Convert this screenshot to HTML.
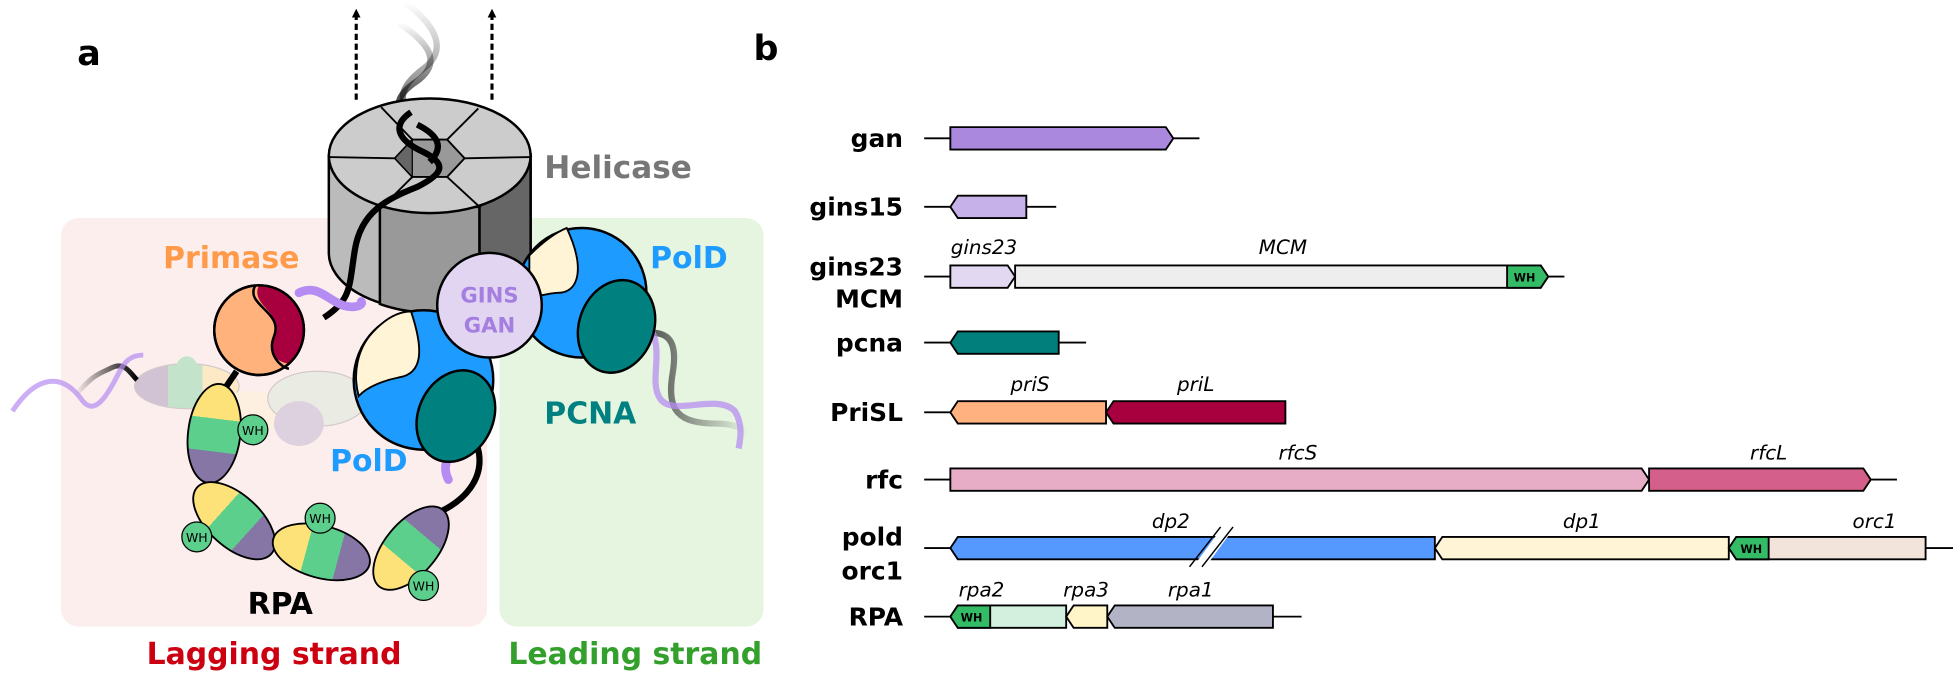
<!DOCTYPE html>
<html><head><meta charset="utf-8"><style>
html,body{margin:0;padding:0;background:#fff;}
svg{display:block;}
text{font-family:"DejaVu Sans","Liberation Sans",sans-serif;}
</style></head><body>
<svg width="1953" height="674" viewBox="0 0 1568 541" xmlns="http://www.w3.org/2000/svg">
<defs>
<linearGradient id="rpa" x1="0" y1="0" x2="1" y2="0">
<stop offset="0" stop-color="#fde27a"/><stop offset="0.35" stop-color="#fde27a"/>
<stop offset="0.35" stop-color="#5dcf8c"/><stop offset="0.68" stop-color="#5dcf8c"/>
<stop offset="0.68" stop-color="#8576a6"/><stop offset="1" stop-color="#8576a6"/>
</linearGradient>
<linearGradient id="fadeUp" x1="0" y1="1" x2="0" y2="0">
<stop offset="0" stop-color="#000"/><stop offset="1" stop-color="#000" stop-opacity="0"/>
</linearGradient>
<linearGradient id="fadeL" x1="1" y1="0" x2="0" y2="0">
<stop offset="0" stop-color="#000"/><stop offset="1" stop-color="#000" stop-opacity="0"/>
</linearGradient>
<linearGradient id="fadeR" x1="0" y1="0" x2="1" y2="0">
<stop offset="0" stop-color="#333"/><stop offset="1" stop-color="#333" stop-opacity="0"/>
</linearGradient>
<marker id="ah" markerUnits="userSpaceOnUse" markerWidth="8" markerHeight="8" refX="2" refY="4" orient="auto"><path d="M0,0.5 L7,4 L0,7.5 z" fill="#000"/></marker>
</defs>

<rect x="49" y="175" width="342" height="328" rx="14" fill="#fdeeee"/>
<rect x="401" y="175" width="212" height="328" rx="14" fill="#e5f5e0"/>

<text x="62" y="52" font-size="28" font-weight="bold">a</text>
<text x="605" y="48" font-size="28" font-weight="bold">b</text>

<line x1="286" y1="80" x2="286" y2="12" stroke="#000" stroke-width="2.5" stroke-dasharray="5,3" marker-end="url(#ah)"/>
<line x1="395" y1="80" x2="395" y2="12" stroke="#000" stroke-width="2.5" stroke-dasharray="5,3" marker-end="url(#ah)"/>

<path d="M325,2 C350,20 360,40 340,55 C320,70 320,80 330,95" fill="none" stroke="url(#fadeUp)" stroke-width="5" opacity="0.6"/>
<path d="M320,18 C345,35 355,50 335,65 C315,78 315,90 335,105" fill="none" stroke="url(#fadeUp)" stroke-width="5"/>

<path d="M264,125 L264,203 A81,46 0 0 0 426,203 L426,125 Z" fill="#bbbbbb" stroke="#000" stroke-width="2"/>
<path d="M305,166 L305,244 A81,46 0 0 0 385,246 L385,166 Z" fill="#999" stroke="#000" stroke-width="2"/>
<path d="M385,166 L385,246 A81,46 0 0 0 426,203 L426,125 Z" fill="#666" stroke="#000" stroke-width="2"/>
<ellipse cx="345" cy="125" rx="81" ry="46" fill="#cccccc" stroke="#000" stroke-width="2"/>
<polygon points="317,127 331,112 359,112 373,127 359,142 331,142" fill="#999" stroke="#000" stroke-width="1.5"/>
<polygon points="317,127 331,112 331,142" fill="#666" stroke="#000" stroke-width="1"/>
<g stroke="#000" stroke-width="1.5">
<line x1="331" y1="112" x2="306" y2="86"/><line x1="359" y1="112" x2="384" y2="87"/>
<line x1="317" y1="127" x2="264" y2="126"/><line x1="373" y1="127" x2="426" y2="126"/>
<line x1="331" y1="142" x2="304" y2="169"/><line x1="359" y1="142" x2="385" y2="166"/>
</g>
<path d="M330,90 C315,100 318,112 340,122 C360,132 355,140 335,150 C310,160 290,170 285,200 C280,230 283,240 260,255" fill="none" stroke="#000" stroke-width="5"/>
<path d="M335,100 C355,110 355,120 345,130" fill="none" stroke="#000" stroke-width="5"/>
<text x="437" y="143" font-size="25" font-weight="bold" fill="#777">Helicase</text>

<g opacity="0.35">
<ellipse cx="150" cy="310" rx="42" ry="18" fill="url(#rpa)" transform="rotate(180 150 310)" stroke="#888"/>
<ellipse cx="205" cy="330" rx="40" ry="16" fill="#fff6c8"/>
<ellipse cx="255" cy="320" rx="40" ry="22" fill="#c9e8d0" stroke="#888"/>
<ellipse cx="240" cy="340" rx="20" ry="18" fill="#a49bc4"/>
<circle cx="150" cy="294" r="8" fill="#5dcf8c"/>
</g>
<path d="M60,318 C75,300 80,300 90,295 C100,290 105,300 110,305" fill="none" stroke="url(#fadeL)" stroke-width="4"/>
<path d="M10,330 C30,300 50,300 65,320 C75,335 85,320 95,300 C100,290 105,285 115,285" fill="none" stroke="#b58cf2" stroke-width="4" opacity="0.7"/>

<line x1="190" y1="298" x2="175" y2="320" stroke="#000" stroke-width="5"/>
<circle cx="208" cy="265" r="36" fill="#ffb27c" stroke="#000" stroke-width="2"/>
<path d="M208,229 A36,36 0 0 1 232,292 C 220,290 215,282 220,270 C228,250 200,245 208,229 Z" fill="#a8003e"/>
<path d="M205,229 C196,245 228,250 220,270 C214,285 226,295 232,296" fill="none" stroke="#000" stroke-width="2"/>
<circle cx="208" cy="265" r="36" fill="none" stroke="#000" stroke-width="2"/>
<path d="M240,235 C255,228 262,240 275,245 C285,248 292,245 290,242" fill="none" stroke="#b58cf2" stroke-width="7" stroke-linecap="round"/>
<text x="131" y="215" font-size="24" font-weight="bold" fill="#ff9a4a">Primase</text>

<path d="M355,410 C375,400 385,385 385,370 C385,360 382,355 378,350" fill="none" stroke="#000" stroke-width="5"/>
<ellipse cx="172" cy="348" rx="40" ry="21" fill="url(#rpa)" stroke="#000" stroke-width="1.5" transform="rotate(97 172 348)"/>
<ellipse cx="188" cy="418" rx="40" ry="21" fill="url(#rpa)" stroke="#000" stroke-width="1.5" transform="rotate(42 188 418)"/>
<ellipse cx="258" cy="443" rx="40" ry="21" fill="url(#rpa)" stroke="#000" stroke-width="1.5" transform="rotate(15 258 443)"/>
<ellipse cx="330" cy="440" rx="40" ry="21" fill="url(#rpa)" stroke="#000" stroke-width="1.5" transform="rotate(-50 330 440)"/>
<g font-size="10" text-anchor="middle" fill="#000">
<circle cx="203" cy="345" r="12" fill="#5dcf8c" stroke="#000"/><text x="203" y="349">WH</text>
<circle cx="158" cy="431" r="12" fill="#5dcf8c" stroke="#000"/><text x="158" y="435">WH</text>
<circle cx="257" cy="416" r="12" fill="#5dcf8c" stroke="#000"/><text x="257" y="420">WH</text>
<circle cx="340" cy="470" r="12" fill="#5dcf8c" stroke="#000"/><text x="340" y="474">WH</text>
</g>
<text x="225" y="493" font-size="24" font-weight="bold" text-anchor="middle">RPA</text>

<path d="M505,270 C535,262 545,270 540,300 C535,330 545,340 575,340 C590,340 600,345 600,350" fill="none" stroke="url(#fadeR)" stroke-width="5"/>
<path d="M520,260 C535,280 520,305 530,320 C540,335 575,315 590,330 C596,340 595,350 593,360" fill="none" stroke="#b58cf2" stroke-width="5" opacity="0.75"/>

<circle cx="467" cy="235" r="52" fill="#1e9bff" stroke="#000" stroke-width="2"/>
<path d="M425,205 C440,190 450,185 455,183 C470,215 465,235 448,235 C440,235 430,240 425,235 Z" fill="#fff5d6" stroke="#000" stroke-width="1.5"/>
<ellipse cx="495" cy="262" rx="30" ry="38" fill="#00807e" stroke="#000" stroke-width="2" transform="rotate(20 495 262)"/>
<text x="522" y="215" font-size="24" font-weight="bold" fill="#1e9bff">PolD</text>
<text x="437" y="340" font-size="24" font-weight="bold" fill="#008080">PCNA</text>

<path d="M360,385 C355,375 358,365 370,358 C380,350 385,345 385,330" fill="none" stroke="#b58cf2" stroke-width="7" stroke-linecap="round"/>
<circle cx="340" cy="305" r="56" fill="#1e9bff" stroke="#000" stroke-width="2"/>
<path d="M299,267 C310,255 320,250 330,250 C340,280 340,300 320,303 C310,305 295,310 288,318 C283,300 287,280 299,267 Z" fill="#fff5d6" stroke="#000" stroke-width="1.5"/>
<ellipse cx="366" cy="334" rx="30" ry="38" fill="#00807e" stroke="#000" stroke-width="2" transform="rotate(25 366 334)"/>
<text x="265" y="378" font-size="24" font-weight="bold" fill="#1e9bff">PolD</text>

<circle cx="393" cy="245" r="42" fill="#e2d5f2" stroke="#000" stroke-width="2"/>
<text x="393" y="243" font-size="17" font-weight="bold" fill="#a47fe0" text-anchor="middle">GINS</text>
<text x="393" y="267" font-size="17" font-weight="bold" fill="#a47fe0" text-anchor="middle">GAN</text>

<text x="220" y="533" font-size="24" font-weight="bold" fill="#cc0011" text-anchor="middle">Lagging strand</text>
<text x="510" y="533" font-size="24" font-weight="bold" fill="#33a02c" text-anchor="middle">Leading strand</text>

<g font-size="20" font-weight="bold" text-anchor="end">
<text x="725" y="118">gan</text>
<text x="725" y="173">gins15</text>
<text x="725" y="221">gins23</text>
<text x="725" y="247">MCM</text>
<text x="725" y="282">pcna</text>
<text x="725" y="338">PriSL</text>
<text x="725" y="392">rfc</text>
<text x="725" y="438">pold</text>
<text x="725" y="465">orc1</text>
<text x="725" y="502">RPA</text>
</g>
<g stroke="#000" stroke-width="1.5">
<line x1="742" y1="111" x2="963" y2="111"/>
<line x1="742" y1="166" x2="848" y2="166"/>
<line x1="742" y1="222" x2="1256" y2="222"/>
<line x1="742" y1="275" x2="872" y2="275"/>
<line x1="742" y1="331" x2="1026" y2="331"/>
<line x1="742" y1="385" x2="1523" y2="385"/>
<line x1="742" y1="440" x2="1568" y2="440"/>
<line x1="742" y1="495" x2="1045" y2="495"/>
</g>
<g stroke="#000" stroke-width="1.5">
<polygon points="763,102 936,102 942,111 936,120 763,120" fill="#a988dd"/>
<polygon points="769,157 824,157 824,175 769,175 763,166" fill="#c6b2e8"/>
<polygon points="763,213 809,213 815,222 809,231 763,231" fill="#e2d8f2"/>
<polygon points="815,213 1237,213 1243,222 1237,231 815,231" fill="#eeeeee"/>
<polygon points="1210,213 1237,213 1243,222 1237,231 1210,231" fill="#33bb66"/>
<polygon points="769,266 850,266 850,284 769,284 763,275" fill="#007f7d"/>
<polygon points="769,322 888,322 888,340 769,340 763,331" fill="#ffb27f"/>
<polygon points="894,322 1032,322 1032,340 894,340 888,331" fill="#a8003e"/>
<polygon points="763,376 1318,376 1324,385 1318,394 763,394" fill="#e8adc6"/>
<polygon points="1324,376 1496,376 1502,385 1496,394 1324,394" fill="#d35f8a"/>
<polygon points="769,431 1152,431 1152,449 769,449 763,440" fill="#5599ff"/>
<polygon points="1158,431 1388,431 1388,449 1158,449 1152,440" fill="#fff5d6"/>
<polygon points="1394,431 1546,431 1546,449 1394,449 1388,440" fill="#f2e4da"/>
<polygon points="1394,431 1420,431 1420,449 1394,449 1388,440" fill="#33bb66"/>
<polygon points="769,486 856,486 856,504 769,504 763,495" fill="#d3f0df"/>
<polygon points="769,486 795,486 795,504 769,504 763,495" fill="#33bb66"/>
<polygon points="862,486 889,486 889,504 862,504 856,495" fill="#fff5c8"/>
<polygon points="895,486 1022,486 1022,504 895,504 889,495" fill="#b3b3c6"/>
</g>
<polygon points="958,455 968,455 990,425 980,425" fill="#fff"/>
<line x1="955" y1="455" x2="980" y2="423" stroke="#000" stroke-width="1.2"/>
<line x1="965" y1="455" x2="990" y2="423" stroke="#000" stroke-width="1.2"/>
<g font-size="9" font-weight="bold" text-anchor="middle">
<text x="1224" y="226">WH</text><text x="1406" y="444">WH</text><text x="780" y="499">WH</text>
</g>
<g font-size="16" font-style="italic" text-anchor="middle">
<text x="790" y="204">gins23</text><text x="1030" y="204">MCM</text>
<text x="827" y="314">priS</text><text x="960" y="314">priL</text>
<text x="1042" y="369">rfcS</text><text x="1420" y="369">rfcL</text>
<text x="940" y="424">dp2</text><text x="1270" y="424">dp1</text><text x="1505" y="424">orc1</text>
<text x="788" y="479">rpa2</text><text x="872" y="479">rpa3</text><text x="956" y="479">rpa1</text>
</g>
</svg>
</body></html>
